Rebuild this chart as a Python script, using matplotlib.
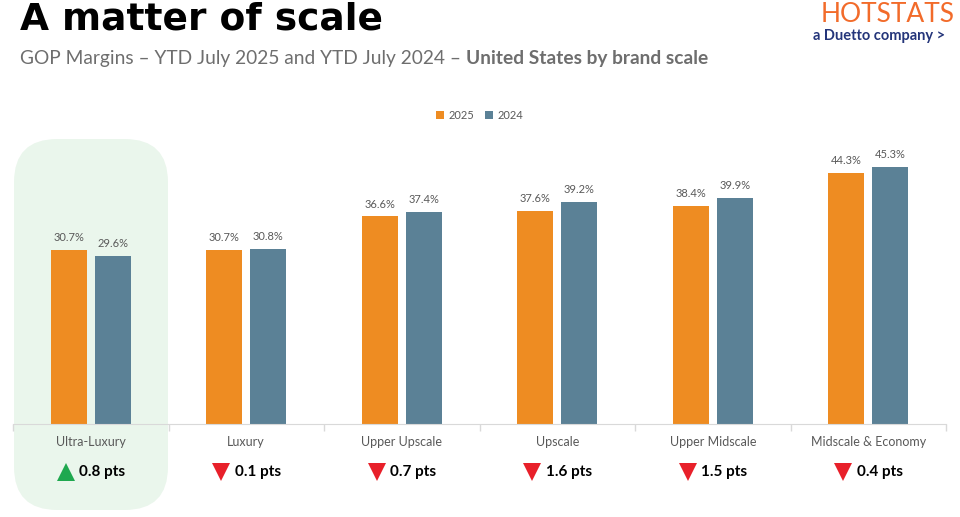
import matplotlib
matplotlib.use('Agg')
import numpy as np
import matplotlib.pyplot as plt
from matplotlib.patches import FancyBboxPatch
import matplotlib.transforms as mtransforms

categories = ['Ultra-Luxury', 'Luxury', 'Upper Upscale', 'Upscale', 'Upper Midscale', 'Midscale & Economy']
gop_2025 = [30.7, 30.7, 36.6, 37.6, 38.4, 44.3]
gop_2024 = [29.6, 30.8, 37.4, 39.2, 39.9, 45.3]
delta_pts = [0.8, -0.1, -0.7, -1.6, -1.5, -0.4]

orange = '#EE8C22'
steel = '#5B8196'
grey = '#595959'

plt.rcParams['font.family'] = ['Lato', 'DejaVu Sans']

fig = plt.figure(figsize=(9.6, 5.17), dpi=100)
W, H = 960, 517

# highlight box behind Ultra-Luxury
box = FancyBboxPatch((14 / W, 7 / H), 154 / W, 371 / H,
                     boxstyle='round,pad=0,rounding_size=0.045',
                     transform=fig.transFigure, facecolor='#EAF6EC',
                     edgecolor='none', zorder=0, mutation_aspect=W / H)
fig.patches.append(box)

ax = fig.add_axes([13 / W, (H - 424) / H, 933 / W, 324 / H])
ax.set_zorder(2)
ax.patch.set_alpha(0)

x = np.arange(len(categories))
bw = 0.23
off = 0.142
b1 = ax.bar(x - off, gop_2025, bw, color=orange, label='2025', zorder=2)
b2 = ax.bar(x + off, gop_2024, bw, color=steel, label='2024', zorder=2)
for bars, vals in ((b1, gop_2025), (b2, gop_2024)):
    for r, v in zip(bars, vals):
        ax.text(r.get_x() + r.get_width() / 2, v + 1.2, f'{v:.1f}%',
                ha='center', va='bottom', fontsize=8, color=grey)

ax.set_xlim(-0.5, len(categories) - 0.5)
ax.set_ylim(0, 57.1)
ax.set_yticks([])
ax.set_xticks(np.arange(len(categories) + 1) - 0.5, minor=True)
ax.set_xticks([])
ax.tick_params(axis='x', which='minor', length=5, color='#D9D9D9', width=1)
for s in ['top', 'right', 'left']:
    ax.spines[s].set_visible(False)
ax.spines['bottom'].set_color('#D9D9D9')

trans = mtransforms.blended_transform_factory(ax.transData, ax.transAxes)
for i, (c, d) in enumerate(zip(categories, delta_pts)):
    ax.text(i, -0.056, c, transform=trans, ha='center', va='center',
            fontsize=9, color=grey)
    up = d > 0
    ax.plot(i - 0.16, -0.148, marker='^' if up else 'v', markersize=13,
            color='#1FA84F' if up else '#E8202A', transform=trans,
            clip_on=False, markeredgewidth=0)
    ax.text(i - 0.075, -0.148, f'{abs(d):.1f} pts', transform=trans,
            ha='left', va='center', fontsize=11, fontweight='bold', color='black')

ax.legend(loc='upper center', bbox_to_anchor=(0.5, 1.0), ncol=2, frameon=False,
          fontsize=8, handlelength=0.7, handleheight=0.7, handletextpad=0.4,
          columnspacing=1.0, labelcolor=grey)

fig.text(20 / W, 1 - 19 / H, 'A matter of scale', fontsize=27, fontweight='bold',
         va='center', ha='left', color='black', family='DejaVu Sans')
sub = fig.text(20 / W, 1 - 58 / H, 'GOP Margins \u2013 YTD July 2025 and YTD July 2024 \u2013 ',
               fontsize=13.8, va='center', ha='left', color='#6E6E6E')
r = fig.canvas.get_renderer()
ext = sub.get_window_extent(renderer=r)
fig.text(ext.x1 / W, 1 - 58 / H, 'United States by brand scale', fontsize=13.8,
         fontweight='bold', va='center', ha='left', color='#6E6E6E')

fig.text(955 / W, 1 - 15 / H, 'HOTSTATS', fontsize=19, color='#F26B2A',
         ha='right', va='center')
fig.text(945 / W, 1 - 36 / H, 'a Duetto company >', fontsize=10.5,
         fontweight='bold', color='#24357A', ha='right', va='center')

fig.savefig('out.png', dpi=100)
